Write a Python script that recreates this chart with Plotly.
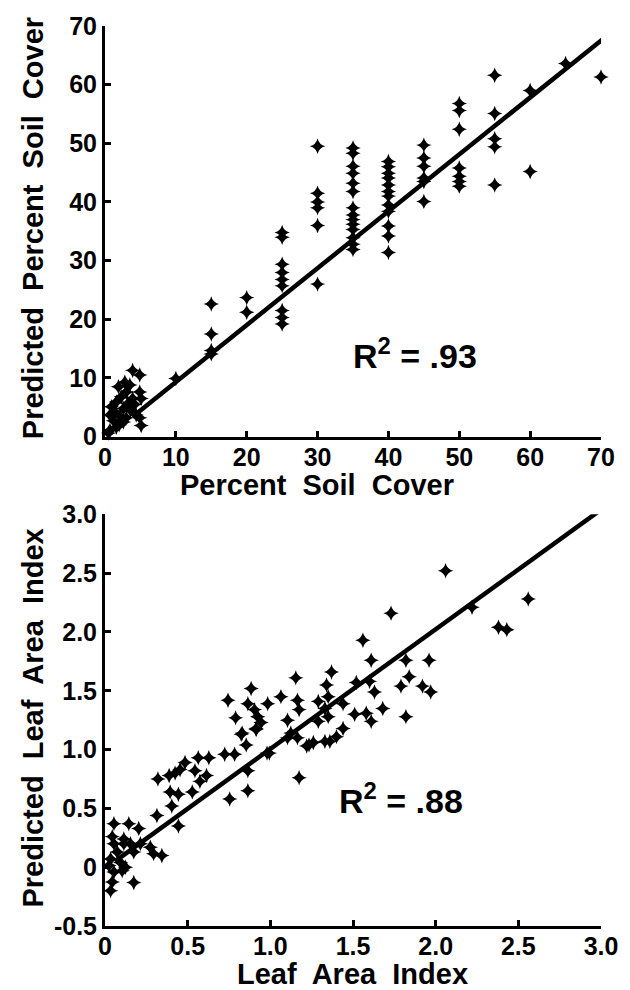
import plotly.graph_objects as go

# ---------------- Top panel: percent soil cover ----------------
soil_obs = [3.9, 4.9, 2.8, 3.5, 1.9, 3.0, 4.9, 2.3, 3.9, 1.6, 3.2, 0.9, 2.6, 1.4, 3.6,
            0.7, 2.1, 3.0, 4.9, 1.2, 2.6, 5.1, 1.6, 0.7, 0.5, 4.2, 2.0, 5.1, 4.4,
            10,
            15, 15, 15, 15,
            20, 20,
            25, 25, 25, 25, 25, 25, 25, 25, 25,
            30, 30, 30, 30, 30, 30,
            35, 35, 35, 35, 35, 35, 35, 35, 35, 35, 35, 35, 35, 35,
            40, 40, 40, 40, 40, 40, 40, 40, 40, 40, 40, 40,
            45, 45, 45, 45, 45, 45,
            50, 50, 50, 50, 50, 50, 50,
            55, 55, 55, 55, 55,
            60, 60,
            65,
            70]
soil_pred = [11.3, 10.5, 9.3, 8.8, 8.5, 7.6, 7.6, 6.8, 6.5, 5.9, 5.6, 5.1, 4.8, 4.2, 4.5,
             3.7, 3.5, 3.2, 3.2, 2.7, 2.5, 1.9, 1.6, 1.1, 0.6, 5.5, 2.0, 6.5, 3.7,
             9.9,
             22.6, 17.5, 14.7, 14.1,
             23.7, 21.2,
             34.8, 34.0, 29.4, 28.0, 26.8, 25.7, 21.5, 20.3, 19.2,
             49.5, 41.5, 40.0, 39.0, 36.0, 26.0,
             49.2, 48.3, 46.1, 44.9, 43.2, 41.8, 39.0, 37.8, 37.0, 36.2, 35.3, 33.9, 32.8, 31.9,
             46.9, 46.0, 44.9, 44.1, 42.9, 41.8, 41.0, 39.5, 38.4, 35.9, 34.2, 31.4,
             49.7, 47.5, 46.1, 44.1, 43.5, 40.1,
             56.8, 55.6, 52.4, 45.8, 44.4, 43.5, 42.7,
             61.6, 55.1, 50.8, 49.4, 42.9,
             59.0, 45.2,
             63.6,
             61.3]
soil_fit_x = [3.9, 70.6]
soil_fit_y = [3.4, 68.1]
soil_ticks = [0, 10, 20, 30, 40, 50, 60, 70]
soil_ticktext = ["0", "10", "20", "30", "40", "50", "60", "70"]

# ---------------- Bottom panel: leaf area index ----------------
lai_obs = [0.054, 0.144, 0.204, 0.044, 0.114, 0.054, 0.114, 0.214, 0.074, 0.174, 0.274, 0.294,
           0.344, 0.034, 0.094, 0.024, 0.124, 0.054, 0.104, 0.044, 0.174, 0.034, 0.154,
           0.314, 0.404, 0.444, 0.394, 0.444, 0.528, 0.32, 0.388, 0.424, 0.454, 0.484, 0.564,
           0.628, 0.544, 0.574, 0.614, 0.724, 0.784, 0.754, 0.864, 0.864, 0.824, 0.854, 0.914,
           0.994, 1.104, 1.164, 1.234, 1.174,
           0.744, 0.79, 0.83, 0.884, 0.864, 0.904, 0.924, 0.944, 0.914, 0.984, 1.064, 1.154,
           1.164, 1.174, 1.104, 1.124,
           1.37, 1.34, 1.35, 1.29, 1.33, 1.35, 1.29, 1.44, 1.44, 1.40, 1.33, 1.36, 1.26, 1.22,
           1.51, 1.52, 1.60, 1.63, 1.58, 1.61, 1.68, 1.61, 1.82, 1.84, 1.79, 1.82, 0.98,
           2.06, 2.56, 2.22, 2.38, 2.43, 1.73, 1.56, 1.96, 1.92, 1.97]
lai_pred = [0.37, 0.37, 0.33, 0.26, 0.24, 0.20, 0.20, 0.20, 0.13, 0.13, 0.17, 0.115,
            0.10, 0.07, 0.04, 0.015, 0.0, -0.04, -0.03, -0.126, -0.13, -0.20, 0.20,
            0.44, 0.52, 0.35, 0.64, 0.62, 0.64, 0.75, 0.78, 0.80, 0.83, 0.89, 0.93,
            0.93, 0.82, 0.73, 0.78, 0.96, 0.96, 0.58, 0.65, 0.82, 1.13, 1.04, 1.17,
            0.97, 1.10, 1.10, 1.04, 0.76,
            1.42, 1.27, 1.14, 1.52, 1.39, 1.34, 1.28, 1.23, 1.18, 1.39, 1.45, 1.61,
            1.42, 1.34, 1.25, 1.14,
            1.66, 1.55, 1.45, 1.41, 1.35, 1.28, 1.24, 1.39, 1.18, 1.11, 1.07, 1.07, 1.06, 1.03,
            1.30, 1.57, 1.58, 1.49, 1.31, 1.24, 1.35, 1.76, 1.76, 1.62, 1.54, 1.28, 0.97,
            2.52, 2.28, 2.21, 2.04, 2.02, 2.16, 1.93, 1.76, 1.54, 1.49]
lai_fit_x = [0.06, 3.0]
lai_fit_y = [0.05, 3.04]
lai_xticks = [0, 0.5, 1.0, 1.5, 2.0, 2.5, 3.0]
lai_xticktext = ["0", "0.5", "1.0", "1.5", "2.0", "2.5", "3.0"]
lai_yticks = [-0.5, 0, 0.5, 1.0, 1.5, 2.0, 2.5, 3.0]
lai_yticktext = ["-0.5", "0", "0.5", "1.0", "1.5", "2.0", "2.5", "3.0"]

FONT = "Liberation Sans"
W, H = 630, 990
ML, MR, MT, MB = 105, 23, 23, 64

marker = dict(symbol="star-diamond", size=11, color="black", line=dict(width=0))

fig = go.Figure()
fig.add_trace(go.Scatter(x=soil_obs, y=soil_pred, mode="markers", marker=marker,
                         xaxis="x", yaxis="y", cliponaxis=False, showlegend=False))
fig.add_trace(go.Scatter(x=soil_fit_x, y=soil_fit_y, mode="lines",
                         line=dict(color="black", width=4.5), cliponaxis=False,
                         xaxis="x", yaxis="y", showlegend=False))
fig.add_trace(go.Scatter(x=lai_obs, y=lai_pred, mode="markers", marker=marker,
                         xaxis="x2", yaxis="y2", cliponaxis=False, showlegend=False))
fig.add_trace(go.Scatter(x=lai_fit_x, y=lai_fit_y, mode="lines",
                         line=dict(color="black", width=4.5), cliponaxis=False,
                         xaxis="x2", yaxis="y2", showlegend=False))

ph = H - MT - MB
def py(px):
    return (H - MB - px) / ph
pw = W - ML - MR
def pxp(px):
    return (px - ML) / pw

axis_common = dict(showline=True, linewidth=3, linecolor="black", ticks="inside",
                   ticklen=6, tickwidth=2.5, tickcolor="black", showgrid=False,
                   zeroline=False, mirror=False,
                   tickfont=dict(family=FONT, size=25, color="black", weight="bold"))

top_dom = [py(435), 1.0]
bot_dom = [0.0, py(513)]

fig.update_layout(
    width=W, height=H,
    margin=dict(l=ML, r=MR, t=MT, b=MB),
    paper_bgcolor="white", plot_bgcolor="white",
    xaxis=dict(domain=[0, 1], range=[0, 70], anchor="y", tickmode="array",
               tickvals=soil_ticks, ticktext=soil_ticktext, ticklabelstandoff=-4,
               **axis_common),
    yaxis=dict(domain=top_dom, range=[0, 70], anchor="x", tickmode="array",
               tickvals=soil_ticks, ticktext=soil_ticktext, **axis_common),
    xaxis2=dict(domain=[0, 1], range=[0, 3.0], anchor="y2", tickmode="array",
                tickvals=lai_xticks, ticktext=lai_xticktext, ticklabelstandoff=-4,
                **axis_common),
    yaxis2=dict(domain=bot_dom, range=[-0.5, 3.0], anchor="x2", tickmode="array",
                tickvals=lai_yticks, ticktext=lai_yticktext, **axis_common),
)

title_font = dict(family=FONT, size=29, color="black", weight="bold")
ann = [
    dict(text="Predicted  Percent  Soil  Cover", x=pxp(32), y=py(226), textangle=-90),
    dict(text="Percent  Soil  Cover", x=pxp(320), y=py(484), textangle=0),
    dict(text="Predicted  Leaf  Area  Index", x=pxp(32), y=py(717), textangle=-90),
    dict(text="Leaf  Area  Index", x=pxp(355), y=py(974), textangle=0),
]
for a in ann:
    fig.add_annotation(xref="paper", yref="paper", xanchor="center", yanchor="middle",
                       showarrow=False, font=title_font, **a)

r2_font = dict(family=FONT, size=34, color="black", weight="bold")
fig.add_annotation(xref="paper", yref="paper", x=pxp(419), y=py(352), text="R<sup>2</sup> = .93",
                   showarrow=False, xanchor="center", yanchor="middle", font=r2_font)
fig.add_annotation(xref="paper", yref="paper", x=pxp(405), y=py(798), text="R<sup>2</sup> = .88",
                   showarrow=False, xanchor="center", yanchor="middle", font=r2_font)

fig.write_html("out.html")
